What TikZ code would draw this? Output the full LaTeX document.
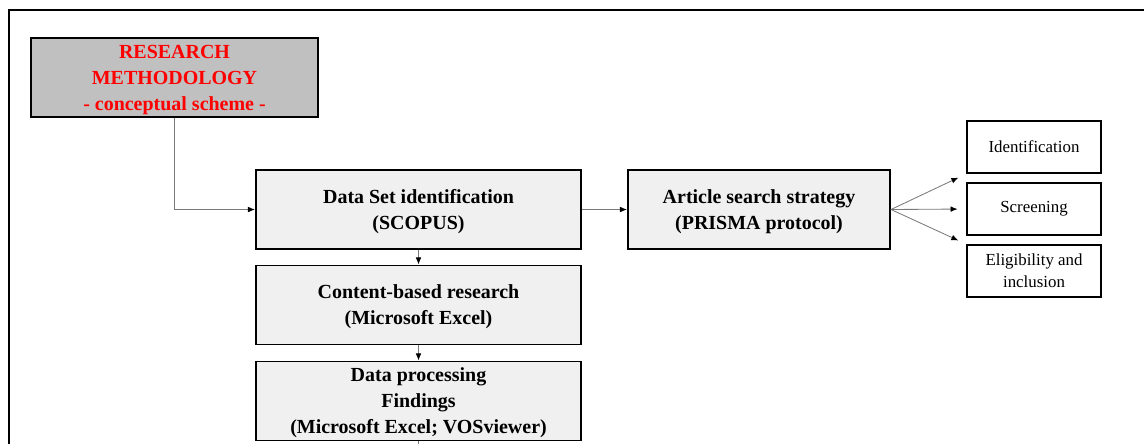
\documentclass[tikz,border=0pt]{standalone}
\usepackage{fontspec}
\setmainfont{Liberation Serif}
\usepackage{xcolor}
\usetikzlibrary{arrows.meta, positioning}
\definecolor{titlefill}{HTML}{C0C0C0}
\definecolor{boxfill}{HTML}{F0F0F0}
\definecolor{linegray}{HTML}{7A7A7A}

\begin{document}
\begin{tikzpicture}[
    x=0.025cm, y=-0.025cm,
    every node/.style={font=\fontsize{14.2}{18.5}\selectfont\bfseries},
    titlebox/.style={rectangle, draw=black, line width=1.4pt, fill=titlefill, minimum width=287*0.025cm, minimum height=79*0.025cm, align=center, inner sep=0pt, text depth=0pt, text=red},
    mainbox/.style={rectangle, draw=black, line width=1.4pt, fill=boxfill, minimum width=325*0.025cm, minimum height=79*0.025cm, align=center, inner sep=0pt, text depth=0pt},
    stagebox/.style={rectangle, draw=black, line width=1.4pt, fill=white, minimum width=134*0.025cm, minimum height=52*0.025cm, align=center, inner sep=0pt, font=\fontsize{12}{15.5}\selectfont},
    arr/.style={-{Latex[length=5pt, width=4pt, black]}, draw=linegray, line width=0.6pt}
]
\useasboundingbox (0,0) rectangle (1144,443);
\clip (0,0) rectangle (1144,443);

% outer frame
\draw[line width=2pt] (9,460) -- (9,10) -- (1160,10);

\node[titlebox] (method) at (174.5, 77.5) {RESEARCH\\METHODOLOGY\\- conceptual scheme -};

\node[mainbox] (dataset) at (418.5, 209.5) {Data Set identification\\(SCOPUS)};
\node[mainbox] (content) at (418.5, 305) {Content-based research\\(Microsoft Excel)};
\node[mainbox] (proc)    at (418.5, 401) {Data processing\\Findings\\(Microsoft Excel; VOSviewer)};
\node[mainbox, minimum width=262*0.025cm] (search) at (759, 209.5) {Article search strategy\\(PRISMA protocol)};

\node[stagebox] (ident)  at (1034, 147) {Identification};
\node[stagebox] (screen) at (1034, 209) {Screening};
\node[stagebox] (elig)   at (1034, 271) {Eligibility and\\inclusion};

\coordinate (next) at (418.5, 470);

\draw[arr] (method.south) |- (dataset.west);
\draw[arr] (dataset) -- (content);
\draw[arr] (content) -- (proc);
\draw[arr] (proc) -- (next);
\draw[arr] (dataset) -- (search);

\draw[arr, shorten >=6pt] (search.east) -- (ident.south west);
\draw[arr, shorten >=6pt] (search.east) -- (screen.west);
\draw[arr, shorten >=6pt] (search.east) -- (elig.north west);

\end{tikzpicture}
\end{document}
